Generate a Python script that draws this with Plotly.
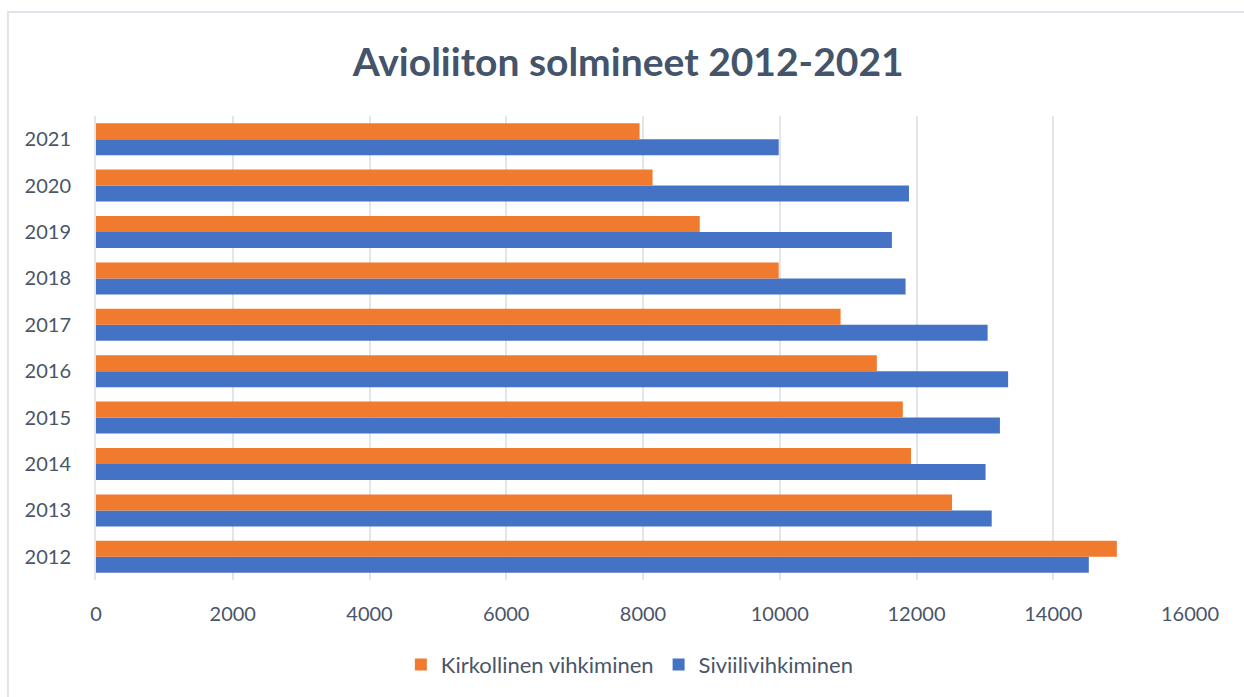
import plotly.graph_objects as go

years = ["2012", "2013", "2014", "2015", "2016", "2017", "2018", "2019", "2020", "2021"]
kirkollinen = [14930, 12520, 11920, 11800, 11420, 10890, 9985, 8830, 8140, 7950]
siviili = [14520, 13100, 13010, 13220, 13340, 13040, 11840, 11640, 11890, 9985]
x_ticks = [0, 2000, 4000, 6000, 8000, 10000, 12000, 14000, 16000]

font_family = "Lato, 'Open Sans', sans-serif"
text_color = "#4A5568"

fig = go.Figure()
# Civil marriages first so that church weddings sit above them in each pair
fig.add_trace(go.Bar(
    y=years, x=siviili, orientation="h", name="Siviilivihkiminen",
    marker=dict(color="#4472C4", line=dict(width=0)), legendrank=2,
))
fig.add_trace(go.Bar(
    y=years, x=kirkollinen, orientation="h", name="Kirkollinen vihkiminen",
    marker=dict(color="#F07B2E", line=dict(width=0)), legendrank=1,
))

fig.update_layout(
    width=1244, height=697,
    margin=dict(l=96, r=54, t=116, b=116),
    paper_bgcolor="white", plot_bgcolor="white",
    barmode="group", bargap=0.31, bargroupgap=0,
    title=dict(
        text="<b>Avioliiton solmineet 2012-2021</b>",
        x=0.505, xanchor="center", y=0.911, yanchor="middle",
        font=dict(family=font_family, size=39, color="#44546A"),
    ),
    font=dict(family=font_family, size=20, color=text_color),
    legend=dict(
        orientation="h", x=0.488, xanchor="center", y=-0.18, yanchor="middle",
        font=dict(size=22, color=text_color), itemwidth=30, traceorder="normal",
    ),
    xaxis=dict(
        range=[0, 16000], tickvals=x_ticks, ticktext=[str(v) for v in x_ticks],
        showgrid=True, gridcolor="#E2E5EA", gridwidth=2, zeroline=False,
        showline=False, ticks="", ticklabelstandoff=20,
        tickfont=dict(size=20),
    ),
    yaxis=dict(
        showgrid=False, showline=True, linecolor="#E2E5EA", linewidth=2,
        ticks="", ticklabelstandoff=19, zeroline=False,
        tickfont=dict(size=20),
    ),
    shapes=[dict(
        type="rect", xref="paper", yref="paper",
        x0=-0.0805, x1=1.2, y0=-0.5, y1=1.224,
        line=dict(color="#E0E4EA", width=2), fillcolor="rgba(0,0,0,0)",
        layer="below",
    )],
)

fig.write_html("out.html")
